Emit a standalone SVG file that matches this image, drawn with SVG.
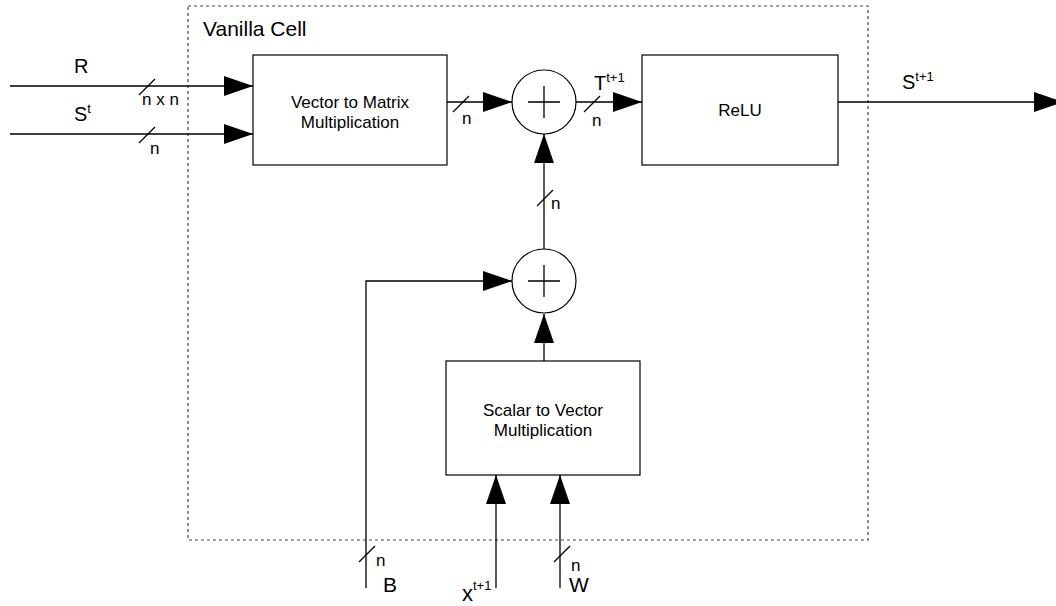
<svg xmlns="http://www.w3.org/2000/svg" width="1056" height="606" viewBox="0 0 1056 606">
<style>
text{font-family:"Liberation Sans",Arial,sans-serif;fill:#000}
.box{fill:#fff;stroke:#000;stroke-width:1.2}
.sum{fill:#fff;stroke:#000;stroke-width:1.2}
.w{stroke:#000;stroke-width:1.3;fill:none}
.a{marker-end:url(#ah)}
.lbl{font-size:20px}
.n{font-size:17px}
.sup{font-size:13px}
.bt{font-size:17px;text-anchor:middle}
.frame{fill:none;stroke:#444;stroke-width:1.2;stroke-dasharray:3,3}
</style>
<defs>
<marker id="ah" markerUnits="userSpaceOnUse" markerWidth="29" markerHeight="20" refX="29" refY="10" orient="auto">
<path d="M0,0 L29,10 L0,20 z" fill="#000"/>
</marker>
</defs>
<g id="frame">
<rect class="frame" x="188" y="6" width="680" height="534"/>
<text x="203" y="36" style="font-size:21px">Vanilla Cell</text>
</g>
<g id="connectors">
<line class="w a" x1="10" y1="86" x2="253" y2="86"/>
<line class="w a" x1="10" y1="134" x2="253" y2="134"/>
<line class="w a" x1="447" y1="102" x2="512" y2="102"/>
<line class="w a" x1="576" y1="102" x2="642" y2="102"/>
<line class="w a" x1="838" y1="102" x2="1063" y2="102"/>
<line class="w a" x1="544" y1="249" x2="544" y2="134"/>
<polyline class="w a" points="366,588 366,281 512,281"/>
<line class="w a" x1="544" y1="361" x2="544" y2="314"/>
<line class="w a" x1="496" y1="588" x2="496" y2="475"/>
<line class="w a" x1="560" y1="588" x2="560" y2="475"/>
<g class="w">
<line x1="139" y1="95" x2="155" y2="79"/>
<line x1="139" y1="143" x2="155" y2="127"/>
<line x1="453" y1="112" x2="469" y2="96"/>
<line x1="584" y1="112" x2="600" y2="96"/>
<line x1="537" y1="206" x2="553" y2="190"/>
<line x1="359" y1="562" x2="375" y2="546"/>
<line x1="554" y1="562" x2="570" y2="546"/>
</g>
<text class="n" x="142" y="105">n x n</text>
<text class="n" x="150" y="154">n</text>
<text class="n" x="462" y="124">n</text>
<text class="n" x="592" y="126">n</text>
<text class="n" x="551" y="209">n</text>
<text class="n" x="376" y="566">n</text>
<text class="n" x="571" y="571">n</text>
<text class="lbl" x="74" y="73">R</text>
<text class="lbl" x="74" y="121">S<tspan class="sup" dy="-8">t</tspan></text>
<text class="lbl" x="594" y="90">T<tspan class="sup" dy="-8">t+1</tspan></text>
<text class="lbl" x="902" y="89">S<tspan class="sup" dy="-8">t+1</tspan></text>
<text class="lbl" x="383" y="592" style="font-size:21px">B</text>
<text class="lbl" x="462" y="601" style="font-size:22px">x<tspan class="sup" dy="-11">t+1</tspan></text>
<text class="lbl" x="569" y="592" style="font-size:21px">W</text>
</g>
<g id="vm">
<rect class="box" x="253" y="55" width="194" height="110"/>
<text class="bt" x="350" y="108">Vector to Matrix</text>
<text class="bt" x="350" y="128">Multiplication</text>
</g>
<g id="sum1">
<circle class="sum" cx="544" cy="102" r="32"/>
<path class="w" d="M528,102 H560 M544,86 V118"/>
</g>
<g id="relu">
<rect class="box" x="642" y="55" width="196" height="110"/>
<text class="bt" x="740" y="116">ReLU</text>
</g>
<g id="sum2">
<circle class="sum" cx="544" cy="281" r="32"/>
<path class="w" d="M528,281 H560 M544,265 V297"/>
</g>
<g id="sv">
<rect class="box" x="446" y="361" width="194" height="114"/>
<text class="bt" x="543" y="416">Scalar to Vector</text>
<text class="bt" x="543" y="436">Multiplication</text>
</g>
</svg>
